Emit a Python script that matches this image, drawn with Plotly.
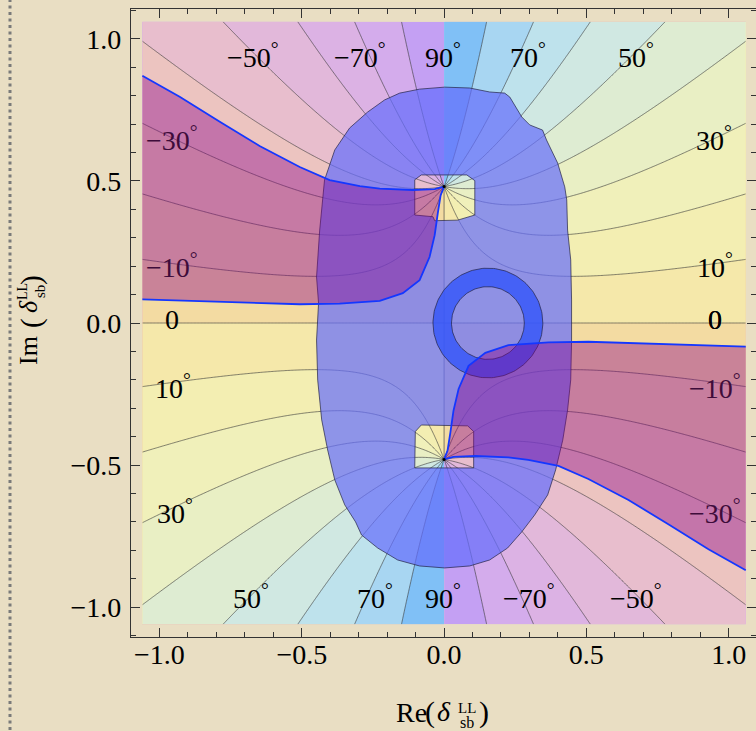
import numpy as np
import plotly.graph_objects as go

# ---------------------------------------------------------------- data ----
# Phase of the mixing amplitude, phi = arg(1 + delta^2 / a^2) / 2,
# with branch points at delta = +/- i*a.
BRANCH_IM = 0.48
HALF_WIDTH = 1.06                     # extent of the shaded phase map
LEVEL_START, LEVEL_END, LEVEL_STEP = -80, 80, 10

# fill colour of each 10-degree band, from (-90,-80) up to (80,90)
band_colors = [
    "rgb(196,160,243)", "rgb(212,172,236)", "rgb(220,178,228)",
    "rgb(226,184,218)", "rgb(232,190,205)", "rgb(236,196,192)",
    "rgb(239,203,182)", "rgb(241,210,172)", "rgb(243,219,162)",
    "rgb(245,232,170)", "rgb(243,238,178)", "rgb(240,240,186)",
    "rgb(233,239,196)", "rgb(222,236,210)", "rgb(208,232,226)",
    "rgb(190,226,236)", "rgb(168,214,242)", "rgb(128,192,246)",
]

# contour labels (degrees)
label_text = ["−50", "−70", "90", "70", "50",
              "−30", "−10", "0", "10", "30",
              "30", "10", "0", "−10", "−30",
              "50", "70", "90", "−70", "−50"]
label_x = [-0.671, -0.295, -0.003, 0.296, 0.674,
           -0.955, -0.955, -0.955, -0.952, -0.945,
           0.949, 0.951, 0.951, 0.953, 0.953,
           -0.678, -0.242, -0.003, 0.299, 0.676]
label_y = [0.940, 0.940, 0.940, 0.940, 0.940,
           0.651, 0.204, 0.011, -0.222, -0.665,
           0.651, 0.204, 0.011, -0.225, -0.665,
           -0.964, -0.964, -0.964, -0.964, -0.964]
label_in_band = [False, False, False, False, False,
                 True, True, False, False, False,
                 False, False, False, True, True,
                 False, False, False, False, False]
label_heavy = [False] * 12 + [True] + [False] * 7

# allowed region (outer boundary, clockwise)
allowed_x = [-0.156, -0.086, 0.002, 0.090, 0.160, 0.213, 0.231, 0.248, 0.273,
             0.301, 0.346, 0.360, 0.399, 0.424, 0.431, 0.434, 0.445, 0.448,
             0.448, 0.445, 0.434, 0.417, 0.392, 0.364, 0.318, 0.273, 0.223,
             0.160, 0.090, 0.002, -0.086, -0.163, -0.233, -0.290, -0.311,
             -0.349, -0.384, -0.409, -0.430, -0.444, -0.448, -0.441, -0.448,
             -0.437, -0.420, -0.384, -0.332, -0.269, -0.209]
allowed_y = [0.809, 0.823, 0.830, 0.827, 0.813, 0.809, 0.795, 0.767, 0.725,
             0.697, 0.679, 0.644, 0.563, 0.479, 0.433, 0.327, 0.222, 0.081,
             -0.060, -0.200, -0.306, -0.412, -0.517, -0.605, -0.676, -0.735,
             -0.792, -0.834, -0.855, -0.862, -0.855, -0.834, -0.792, -0.746,
             -0.700, -0.640, -0.552, -0.447, -0.341, -0.201, -0.060, 0.070,
             0.162, 0.327, 0.503, 0.609, 0.686, 0.742, 0.785]

# excluded windows around the two branch points (clockwise)
hole_top_x = [-0.103, -0.080, 0.080, 0.108, 0.108, 0.048, -0.033, -0.039, -0.103]
hole_top_y = [0.504, 0.521, 0.521, 0.501, 0.380, 0.362, 0.360, 0.374, 0.380]
hole_bot_x = [-0.101, -0.080, 0.083, 0.104, 0.104, -0.103]
hole_bot_y = [-0.382, -0.359, -0.362, -0.382, -0.510, -0.510]

# ring-shaped region
ring_cx, ring_cy = 0.154, 0.0
ring_r_out, ring_r_in = 0.193, 0.128

# boundary of the shaded band in the upper-left quadrant (left edge -> branch point)
band_upper_x = [-1.060, -0.929, -0.788, -0.648, -0.507, -0.402, -0.296,
                -0.226, -0.110, -0.033, 0.0]
band_upper_y = [0.870, 0.796, 0.708, 0.623, 0.549, 0.503, 0.482,
                0.473, 0.468, 0.471, 0.48]
band_lower_x = [-1.060, -0.859, -0.683, -0.507, -0.367, -0.226, -0.145,
                -0.086, -0.051, -0.033, -0.022, -0.012, 0.0]
band_lower_y = [0.083, 0.077, 0.072, 0.066, 0.068, 0.078, 0.105,
                0.151, 0.232, 0.309, 0.387, 0.450, 0.48]

x_ticks = [-1.0, -0.5, 0.0, 0.5, 1.0]
y_ticks = [-1.0, -0.5, 0.0, 0.5, 1.0]

# ------------------------------------------------------------ styling ----
SERIF = "Liberation Serif"
BG = "#e9dec3"
LINE_GREY = "rgba(60,60,60,0.62)"
ALLOWED_FILL = "rgba(100,108,252,0.70)"
RING_FILL = "rgba(50,85,250,0.80)"
BAND_FILL = "rgba(138,0,138,0.40)"
BAND_EDGE = "rgb(20,55,255)"
EDGE_DARK = "rgba(35,35,70,0.7)"

# piecewise-constant colour scale, one step per band
n_b = len(band_colors)
band_scale = []
for k, c in enumerate(band_colors):
    lo = max(0.0, (k - 0.5) / (n_b - 1))
    hi = min(1.0, (k + 0.5) / (n_b - 1))
    band_scale += [[lo, c], [hi, c]]


def half_phase_deg(x, y):
    z = x + 1j * y
    return 0.5 * np.degrees(np.angle(1.0 + z * z / BRANCH_IM ** 2))


ys = np.linspace(-HALF_WIDTH, HALF_WIDTH, 424)


def phase_half(side):
    # each half-plane is drawn on its own so the cut along Re=0 stays clean
    if side < 0:
        xs = np.linspace(-HALF_WIDTH, 0.0, 213)
        xe = xs.copy()
        xe[-1] = -1e-9
    else:
        xs = np.linspace(0.0, HALF_WIDTH, 213)
        xe = xs.copy()
        xe[0] = 1e-9
    X, Y = np.meshgrid(xe, ys)
    return go.Contour(
        x=xs, y=ys, z=half_phase_deg(X, Y),
        autocontour=False,
        contours=dict(start=LEVEL_START, end=LEVEL_END, size=LEVEL_STEP,
                      coloring="fill", showlines=True),
        colorscale=band_scale, showscale=False,
        line=dict(color=LINE_GREY, width=1, smoothing=1),
        hoverinfo="skip",
    )


def closed(xs, ys_):
    return list(xs) + [xs[0]], list(ys_) + [ys_[0]]


def polygon_with_holes(ox, oy, holes):
    px, py = closed(ox, oy)
    for hx, hy in holes:
        rx, ry = list(hx)[::-1], list(hy)[::-1]
        px += rx + [rx[0], ox[0]]
        py += ry + [ry[0], oy[0]]
    return px, py


fig = go.Figure()
fig.add_trace(phase_half(-1))
fig.add_trace(phase_half(+1))

# zero-phase segment joining the branch points
fig.add_trace(go.Scatter(x=[0, 0], y=[-BRANCH_IM, BRANCH_IM], mode="lines",
                         line=dict(color=LINE_GREY, width=1), hoverinfo="skip"))

# allowed region with its two excluded windows
ax_, ay_ = polygon_with_holes(allowed_x, allowed_y,
                              [(hole_top_x, hole_top_y), (hole_bot_x, hole_bot_y)])
fig.add_trace(go.Scatter(x=ax_, y=ay_, mode="lines", fill="toself",
                         fillcolor=ALLOWED_FILL, line=dict(width=0),
                         hoverinfo="skip"))
ox, oy = closed(allowed_x, allowed_y)
t1x, t1y = closed(hole_top_x, hole_top_y)
t2x, t2y = closed(hole_bot_x, hole_bot_y)
fig.add_trace(go.Scatter(x=ox + [None] + t1x + [None] + t2x,
                         y=oy + [None] + t1y + [None] + t2y,
                         mode="lines", line=dict(color=EDGE_DARK, width=1),
                         hoverinfo="skip"))

# ring
th = np.linspace(0, 2 * np.pi, 181)
rox = list(ring_cx + ring_r_out * np.cos(th))
roy = list(ring_cy + ring_r_out * np.sin(th))
rix = list(ring_cx + ring_r_in * np.cos(th))
riy = list(ring_cy + ring_r_in * np.sin(th))
rx_, ry_ = polygon_with_holes(rox, roy, [(rix, riy)])
fig.add_trace(go.Scatter(x=rx_, y=ry_, mode="lines", fill="toself",
                         fillcolor=RING_FILL, line=dict(width=0), hoverinfo="skip"))
fig.add_trace(go.Scatter(x=rox + [None] + rix, y=roy + [None] + riy, mode="lines",
                         line=dict(color=EDGE_DARK, width=1), hoverinfo="skip"))

# shaded bands; the constraint is symmetric under delta -> -delta
for sgn in (1, -1):
    ux = [sgn * v for v in band_upper_x]
    uy = [sgn * v for v in band_upper_y]
    lx = [sgn * v for v in band_lower_x]
    ly = [sgn * v for v in band_lower_y]
    fig.add_trace(go.Scatter(x=ux + lx[::-1], y=uy + ly[::-1], mode="lines",
                             fill="toself", fillcolor=BAND_FILL,
                             line=dict(width=0), hoverinfo="skip"))
    fig.add_trace(go.Scatter(x=ux + [None] + lx, y=uy + [None] + ly, mode="lines",
                             line=dict(color=BAND_EDGE, width=1.8),
                             hoverinfo="skip"))

fig.add_trace(go.Scatter(x=[0, 0], y=[BRANCH_IM, -BRANCH_IM], mode="markers",
                         marker=dict(color="black", size=3), hoverinfo="skip"))

# contour labels
LABEL_SIZE = 28
annotations = []
for t, x, y, tinted, heavy in zip(label_text, label_x, label_y,
                                  label_in_band, label_heavy):
    txt = t if t == "0" else t + "<sup>°</sup>"
    col = "rgb(62,12,58)" if tinted else "black"
    for shift in ([0, 0.7] if heavy else [0]):
        annotations.append(dict(x=x, y=y, xref="x", yref="y", text=txt,
                                showarrow=False, xanchor="center",
                                yanchor="middle", xshift=shift,
                                font=dict(family=SERIF, size=LABEL_SIZE,
                                          color=col)))

# axis titles, built piece by piece for the stacked indices
L, T, PW, PH = 131, 9, 625, 628


def paper(px, py):
    return (px - L) / PW, (T + PH - py) / PH


x_title = [("Re", 411.5, 712, 28), ("(", 430, 712, 30), ("<i>δ</i>", 444, 711, 28),
           ("LL", 466.5, 708, 15), ("sb", 466.5, 722, 16), (")", 484, 712, 30)]
y_title = [("Im", 29, 350, 26), ("(", 31, 323, 29), ("<i>δ</i>", 29, 306, 26),
           ("LL", 22, 292, 14), ("sb", 40, 292, 15), (")", 31, 280, 29)]
for txt, px, py, sz in x_title:
    xp, yp = paper(px, py)
    annotations.append(dict(x=xp, y=yp, xref="paper", yref="paper", text=txt,
                            showarrow=False, xanchor="center", yanchor="middle",
                            font=dict(family=SERIF, size=sz, color="black")))
for txt, px, py, sz in y_title:
    xp, yp = paper(px, py)
    annotations.append(dict(x=xp, y=yp, xref="paper", yref="paper", text=txt,
                            showarrow=False, xanchor="center", yanchor="middle",
                            textangle=-90,
                            font=dict(family=SERIF, size=sz, color="black")))

axis_common = dict(
    showgrid=False, zeroline=False, showline=True, linecolor="#333",
    linewidth=1.3, mirror="ticks", ticks="inside", ticklen=9, tickwidth=1.3,
    tickcolor="#333", tickformat=".1f",
    tickfont=dict(family=SERIF, size=28, color="black"),
    minor=dict(ticks="inside", ticklen=5, tickwidth=1, tickcolor="#333", dtick=0.1),
)

fig.update_layout(
    width=756, height=731,
    margin=dict(l=L, r=0, t=T, b=731 - T - PH),
    paper_bgcolor=BG, plot_bgcolor=BG,
    showlegend=False,
    xaxis=dict(range=[-1.1, 1.096], tickvals=x_ticks, ticklabelstandoff=-8,
               **axis_common),
    yaxis=dict(range=[-1.105, 1.105], tickvals=y_ticks, ticklabelstandoff=3,
               **axis_common),
    annotations=annotations,
    shapes=[dict(type="line", xref="paper", yref="paper",
                 x0=(10 - L) / PW, x1=(10 - L) / PW, y0=-0.2, y1=1.05,
                 line=dict(color="#7a7a7a", width=3, dash="3px,3.5px"))],
)

fig.write_html("out.html")
